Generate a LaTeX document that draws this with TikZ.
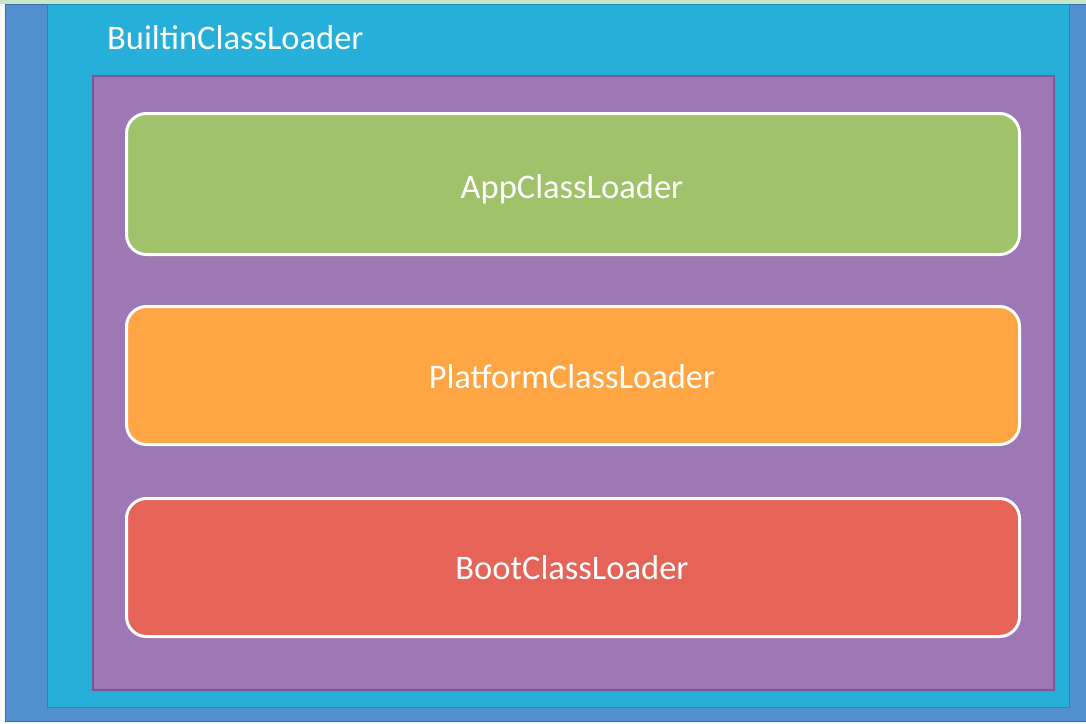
\documentclass[tikz,border=0pt]{standalone}
\usepackage{fontspec}
\setmainfont{Carlito}
\usetikzlibrary{shadows}
\definecolor{topgreen}{RGB}{200,230,202}
\definecolor{outerblue}{RGB}{83,144,207}
\definecolor{outerblueedge}{RGB}{60,110,165}
\definecolor{cyanbox}{RGB}{38,175,216}
\definecolor{cyanedge}{RGB}{28,140,178}
\definecolor{purplebox}{RGB}{157,120,181}
\definecolor{purpleedge}{RGB}{120,88,150}
\definecolor{appgreen}{RGB}{160,194,106}
\definecolor{platorange}{RGB}{255,165,67}
\definecolor{bootred}{RGB}{229,100,87}
\begin{document}
\begin{tikzpicture}[x=1pt,y=-1pt,
  loaderbox/.style={draw=white, line width=3pt, rounded corners=20pt,
    drop shadow={shadow xshift=0pt, shadow yshift=-2pt, opacity=0.25}},
  loadertext/.style={text=white, font=\fontsize{34.5}{40}\selectfont, anchor=base, inner sep=0pt}]
  \useasboundingbox (0,0) rectangle (1086,723);
  \fill[white!95!gray] (0,0) rectangle (1086,723);
  \fill[topgreen] (0,0) rectangle (1086,4);
  \draw[fill=outerblue, draw=outerblueedge, line width=1pt] (5,4.5) rectangle (1090,721);
  \draw[fill=cyanbox, draw=cyanedge, line width=1pt] (47,4.5) rectangle (1069,707);
  \draw[fill=purplebox, draw=purpleedge, line width=1.5pt] (93,76) rectangle (1054,690);
  \node[text=white, font=\fontsize{34.5}{40}\selectfont, anchor=base west, inner sep=0pt] (builtin) at (107,49) {BuiltinClassLoader};
  \node[loaderbox, fill=appgreen, minimum width=893pt, minimum height=141pt, anchor=north west] (appbox) at (125,112) {};
  \node[loaderbox, fill=platorange, minimum width=893pt, minimum height=138pt, anchor=north west] (platbox) at (125,305) {};
  \node[loaderbox, fill=bootred, minimum width=893pt, minimum height=138pt, anchor=north west] (bootbox) at (125,497) {};
  \node[loadertext] (app) at (572,198) {AppClassLoader};
  \node[loadertext] (plat) at (572,388) {PlatformClassLoader};
  \node[loadertext] (boot) at (572,579) {BootClassLoader};
\end{tikzpicture}
\end{document}
